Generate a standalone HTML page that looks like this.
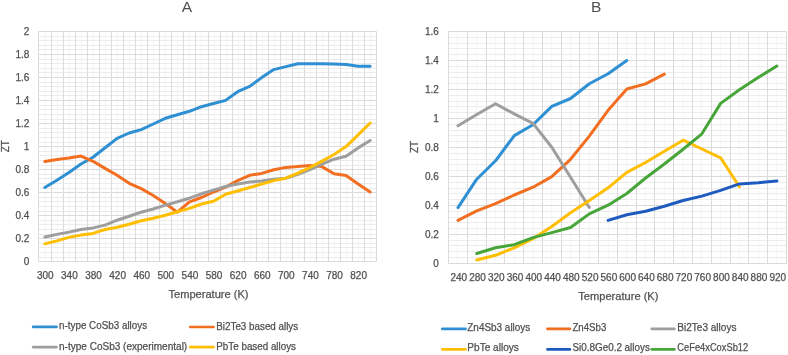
<!DOCTYPE html>
<html><head><meta charset="utf-8"><style>
html,body{margin:0;padding:0;background:#fff;width:788px;height:355px;overflow:hidden}
svg{display:block;filter:blur(0.45px)}
text{font-family:"Liberation Sans", sans-serif;fill:#505050;stroke:#505050;stroke-width:0.25px}
.mn{stroke:#ECECEC;stroke-width:1;fill:none}
.mv{stroke:#F6F6F6;stroke-width:1;fill:none}
.mj{stroke:#DBDBDB;stroke-width:1;fill:none}
.sr{stroke-width:3;stroke-linejoin:round;stroke-linecap:round}
.lg{stroke-width:2.6;fill:none;stroke-linecap:round}
.tk text{font-size:10px}
.ti{font-size:15.5px;stroke:none}
.at{font-size:11.1px}
.zt{font-size:10px}
.lt{font-size:10px}
</style></head><body>
<svg width="788" height="355" viewBox="0 0 788 355">
<path class="mv" d="M45.5 31.5V261.5M57.5 31.5V261.5M69.5 31.5V261.5M81.5 31.5V261.5M93.5 31.5V261.5M105.5 31.5V261.5M117.5 31.5V261.5M129.5 31.5V261.5M141.5 31.5V261.5M153.5 31.5V261.5M165.5 31.5V261.5M177.5 31.5V261.5M189.5 31.5V261.5M201.5 31.5V261.5M214.5 31.5V261.5M226.5 31.5V261.5M238.5 31.5V261.5M250.5 31.5V261.5M262.5 31.5V261.5M274.5 31.5V261.5M286.5 31.5V261.5M298.5 31.5V261.5M310.5 31.5V261.5M322.5 31.5V261.5M334.5 31.5V261.5M346.5 31.5V261.5M358.5 31.5V261.5M370.5 31.5V261.5"/>
<path class="mn" d="M38.5 257.5H376.5M38.5 252.5H376.5M38.5 247.5H376.5M38.5 243.5H376.5M38.5 234.5H376.5M38.5 229.5H376.5M38.5 224.5H376.5M38.5 220.5H376.5M38.5 211.5H376.5M38.5 206.5H376.5M38.5 201.5H376.5M38.5 197.5H376.5M38.5 188.5H376.5M38.5 183.5H376.5M38.5 178.5H376.5M38.5 174.5H376.5M38.5 165.5H376.5M38.5 160.5H376.5M38.5 155.5H376.5M38.5 151.5H376.5M38.5 142.5H376.5M38.5 137.5H376.5M38.5 132.5H376.5M38.5 128.5H376.5M38.5 119.5H376.5M38.5 114.5H376.5M38.5 109.5H376.5M38.5 105.5H376.5M38.5 95.5H376.5M38.5 91.5H376.5M38.5 86.5H376.5M38.5 82.5H376.5M38.5 72.5H376.5M38.5 68.5H376.5M38.5 63.5H376.5M38.5 59.5H376.5M38.5 49.5H376.5M38.5 45.5H376.5M38.5 40.5H376.5M38.5 36.5H376.5"/>
<path class="mj" d="M38.5 261.5H376.5M38.5 238.5H376.5M38.5 215.5H376.5M38.5 192.5H376.5M38.5 169.5H376.5M38.5 146.5H376.5M38.5 123.5H376.5M38.5 100.5H376.5M38.5 77.5H376.5M38.5 54.5H376.5M38.5 31.5H376.5M38.5 31.5V261.5M51.5 31.5V261.5M63.5 31.5V261.5M75.5 31.5V261.5M87.5 31.5V261.5M99.5 31.5V261.5M111.5 31.5V261.5M123.5 31.5V261.5M135.5 31.5V261.5M147.5 31.5V261.5M159.5 31.5V261.5M171.5 31.5V261.5M183.5 31.5V261.5M195.5 31.5V261.5M208.5 31.5V261.5M220.5 31.5V261.5M232.5 31.5V261.5M244.5 31.5V261.5M256.5 31.5V261.5M268.5 31.5V261.5M280.5 31.5V261.5M292.5 31.5V261.5M304.5 31.5V261.5M316.5 31.5V261.5M328.5 31.5V261.5M340.5 31.5V261.5M352.5 31.5V261.5M364.5 31.5V261.5M376.5 31.5V261.5"/>
<path class="mv" d="M457.5 31.5V263.5M476.5 31.5V263.5M495.5 31.5V263.5M514.5 31.5V263.5M533.5 31.5V263.5M551.5 31.5V263.5M570.5 31.5V263.5M589.5 31.5V263.5M608.5 31.5V263.5M626.5 31.5V263.5M645.5 31.5V263.5M664.5 31.5V263.5M683.5 31.5V263.5M701.5 31.5V263.5M720.5 31.5V263.5M739.5 31.5V263.5M758.5 31.5V263.5M776.5 31.5V263.5"/>
<path class="mn" d="M448.5 257.5H786.5M448.5 251.5H786.5M448.5 245.5H786.5M448.5 240.5H786.5M448.5 228.5H786.5M448.5 222.5H786.5M448.5 217.5H786.5M448.5 211.5H786.5M448.5 199.5H786.5M448.5 193.5H786.5M448.5 188.5H786.5M448.5 182.5H786.5M448.5 170.5H786.5M448.5 164.5H786.5M448.5 159.5H786.5M448.5 153.5H786.5M448.5 141.5H786.5M448.5 135.5H786.5M448.5 130.5H786.5M448.5 124.5H786.5M448.5 112.5H786.5M448.5 106.5H786.5M448.5 101.5H786.5M448.5 95.5H786.5M448.5 83.5H786.5M448.5 77.5H786.5M448.5 72.5H786.5M448.5 66.5H786.5M448.5 54.5H786.5M448.5 48.5H786.5M448.5 43.5H786.5M448.5 37.5H786.5"/>
<path class="mj" d="M448.5 263.5H786.5M448.5 234.5H786.5M448.5 205.5H786.5M448.5 176.5H786.5M448.5 147.5H786.5M448.5 118.5H786.5M448.5 89.5H786.5M448.5 60.5H786.5M448.5 31.5H786.5M448.5 31.5V263.5M467.5 31.5V263.5M486.5 31.5V263.5M504.5 31.5V263.5M523.5 31.5V263.5M542.5 31.5V263.5M561.5 31.5V263.5M579.5 31.5V263.5M598.5 31.5V263.5M617.5 31.5V263.5M636.5 31.5V263.5M654.5 31.5V263.5M673.5 31.5V263.5M692.5 31.5V263.5M711.5 31.5V263.5M730.5 31.5V263.5M748.5 31.5V263.5M767.5 31.5V263.5M786.5 31.5V263.5"/>
<polyline points="44.82,187.5 56.88,180.3 68.92,172.4 80.97,164 93.02,157.2 105.07,147.7 117.12,138.4 129.17,133 141.22,129.6 153.27,124 165.32,118.3 177.38,114.7 189.43,111.3 201.47,106.7 213.52,103.5 225.57,100.4 237.62,91.7 249.67,86.4 261.72,77.6 273.77,69.6 285.82,66.6 297.88,63.7 309.93,63.7 321.97,63.7 334.02,64.1 346.07,64.5 358.12,66.3 370.17,66.3" fill="none" stroke="#2E8FD3" class="sr"/>
<polyline points="44.82,161.6 56.88,159.6 68.92,158 80.97,156.1 93.02,161.3 105.07,168.4 117.12,175.3 129.17,183.3 141.22,188.6 153.27,195.5 165.32,203.5 177.38,212.2 189.43,201.8 201.47,197.5 213.52,192 225.57,187.1 237.62,180.6 249.67,175.3 261.72,173.4 273.77,169.7 285.82,167.4 297.88,166.4 309.93,165.5 321.97,166.6 334.02,173.7 346.07,175.4 358.12,183.9 370.17,192" fill="none" stroke="#F26F21" class="sr"/>
<polyline points="44.82,237 56.88,234.4 68.92,232.1 80.97,229.5 93.02,227.9 105.07,225.1 117.12,220.2 129.17,216.3 141.22,212.2 153.27,209 165.32,205.1 177.38,201.8 189.43,198.2 201.47,193.8 213.52,190.1 225.57,186.5 237.62,184 249.67,182 261.72,181.1 273.77,179.2 285.82,178.2 297.88,174.3 309.93,169.6 321.97,164.1 334.02,159.2 346.07,156.3 358.12,147.9 370.17,140.5" fill="none" stroke="#9E9E9E" class="sr"/>
<polyline points="44.82,243.9 56.88,240.9 68.92,237.4 80.97,235.1 93.02,233.4 105.07,229.5 117.12,227.2 129.17,224.3 141.22,220.8 153.27,218.2 165.32,215.3 177.38,211.8 189.43,208.4 201.47,204 213.52,201.3 225.57,194.3 237.62,191 249.67,187.5 261.72,184 273.77,180.6 285.82,178.2 297.88,173.2 309.93,167.5 321.97,161.1 334.02,154.5 346.07,146.6 358.12,134.9 370.17,123" fill="none" stroke="#FFBF00" class="sr"/>
<polyline points="457.98,207.6 476.74,179.2 495.5,160.8 514.26,135.6 533.02,124.8 551.79,106.4 570.55,98.5 589.31,83.8 608.07,73.7 626.83,60.5" fill="none" stroke="#2E8FD3" class="sr"/>
<polyline points="457.98,220.4 476.74,210.9 495.5,203.6 514.26,195 533.02,187.2 551.79,176.6 570.55,159.3 589.31,136.1 608.07,110.3 626.83,89 645.59,83.9 664.35,74.1" fill="none" stroke="#F26F21" class="sr"/>
<polyline points="457.98,125.8 476.74,114.5 495.5,103.7 514.26,113.9 533.02,123.4 551.79,147.2 570.55,177.3 589.31,207.5" fill="none" stroke="#9E9E9E" class="sr"/>
<polyline points="476.74,260 495.5,255.3 514.26,247.8 533.02,238.7 551.79,226.5 570.55,212.8 589.31,200.5 608.07,187.8 626.83,172.4 645.59,162.5 664.35,151.2 683.11,140.2 701.88,149 720.64,157.8 739.4,186.8" fill="none" stroke="#FFBF00" class="sr"/>
<polyline points="608.07,220.4 626.83,214.7 645.59,211.3 664.35,206.2 683.11,200.5 701.88,196.1 720.64,190.4 739.4,183.9 758.16,182.7 776.92,180.9" fill="none" stroke="#1F5BBF" class="sr"/>
<polyline points="476.74,253.5 495.5,247.8 514.26,244.7 533.02,237.6 551.79,232.6 570.55,227.5 589.31,213.9 608.07,205.2 626.83,193.5 645.59,178 664.35,164 683.11,149.2 701.88,133.8 720.64,103.4 739.4,89.7 758.16,77.5 776.92,66" fill="none" stroke="#47A53A" class="sr"/>
<g class="tk">
<text x="29.3" y="264.8" text-anchor="end">0</text>
<text x="29.3" y="241.77" text-anchor="end">0.2</text>
<text x="29.3" y="218.74" text-anchor="end">0.4</text>
<text x="29.3" y="195.71" text-anchor="end">0.6</text>
<text x="29.3" y="172.68" text-anchor="end">0.8</text>
<text x="29.3" y="149.65" text-anchor="end">1</text>
<text x="29.3" y="126.62" text-anchor="end">1.2</text>
<text x="29.3" y="103.59" text-anchor="end">1.4</text>
<text x="29.3" y="80.56" text-anchor="end">1.6</text>
<text x="29.3" y="57.53" text-anchor="end">1.8</text>
<text x="29.3" y="34.5" text-anchor="end">2</text>
<text x="438.8" y="267" text-anchor="end">0</text>
<text x="438.8" y="238" text-anchor="end">0.2</text>
<text x="438.8" y="209" text-anchor="end">0.4</text>
<text x="438.8" y="180" text-anchor="end">0.6</text>
<text x="438.8" y="151" text-anchor="end">0.8</text>
<text x="438.8" y="122" text-anchor="end">1</text>
<text x="438.8" y="93" text-anchor="end">1.2</text>
<text x="438.8" y="64" text-anchor="end">1.4</text>
<text x="438.8" y="35" text-anchor="end">1.6</text>
<text x="45.32" y="278.9" text-anchor="middle">300</text>
<text x="69.42" y="278.9" text-anchor="middle">340</text>
<text x="93.52" y="278.9" text-anchor="middle">380</text>
<text x="117.62" y="278.9" text-anchor="middle">420</text>
<text x="141.72" y="278.9" text-anchor="middle">460</text>
<text x="165.82" y="278.9" text-anchor="middle">500</text>
<text x="189.93" y="278.9" text-anchor="middle">540</text>
<text x="214.02" y="278.9" text-anchor="middle">580</text>
<text x="238.12" y="278.9" text-anchor="middle">620</text>
<text x="262.22" y="278.9" text-anchor="middle">660</text>
<text x="286.32" y="278.9" text-anchor="middle">700</text>
<text x="310.43" y="278.9" text-anchor="middle">740</text>
<text x="334.52" y="278.9" text-anchor="middle">780</text>
<text x="358.62" y="278.9" text-anchor="middle">820</text>
<text x="458.78" y="280.6" text-anchor="middle">240</text>
<text x="477.54" y="280.6" text-anchor="middle">280</text>
<text x="496.3" y="280.6" text-anchor="middle">320</text>
<text x="515.06" y="280.6" text-anchor="middle">360</text>
<text x="533.82" y="280.6" text-anchor="middle">400</text>
<text x="552.59" y="280.6" text-anchor="middle">440</text>
<text x="571.35" y="280.6" text-anchor="middle">480</text>
<text x="590.11" y="280.6" text-anchor="middle">520</text>
<text x="608.87" y="280.6" text-anchor="middle">560</text>
<text x="627.63" y="280.6" text-anchor="middle">600</text>
<text x="646.39" y="280.6" text-anchor="middle">640</text>
<text x="665.15" y="280.6" text-anchor="middle">680</text>
<text x="683.91" y="280.6" text-anchor="middle">720</text>
<text x="702.67" y="280.6" text-anchor="middle">760</text>
<text x="721.44" y="280.6" text-anchor="middle">800</text>
<text x="740.2" y="280.6" text-anchor="middle">840</text>
<text x="758.96" y="280.6" text-anchor="middle">880</text>
<text x="777.72" y="280.6" text-anchor="middle">920</text>
</g>
<text x="186.8" y="11.6" text-anchor="middle" class="ti">A</text>
<text x="596.1" y="11.6" text-anchor="middle" class="ti">B</text>
<text x="208.5" y="298" text-anchor="middle" class="at">Temperature (K)</text>
<text x="618.4" y="300.1" text-anchor="middle" class="at">Temperature (K)</text>
<text transform="translate(9.3,146.2) rotate(-90)" text-anchor="middle" class="zt">ZT</text>
<text transform="translate(418,147) rotate(-90)" text-anchor="middle" class="zt">ZT</text>
<path d="M33.1 326.9H56.5" stroke="#2E8FD3" class="lg"/><text x="59" y="329.4" class="lt" textLength="88.11" lengthAdjust="spacingAndGlyphs">n-type CoSb3 alloys</text>
<path d="M190.2 327H213.6" stroke="#F26F21" class="lg"/><text x="216.3" y="329.5" class="lt" textLength="81.88" lengthAdjust="spacingAndGlyphs">Bi2Te3 based allys</text>
<path d="M33.1 347.1H56.5" stroke="#9E9E9E" class="lg"/><text x="59" y="350" class="lt" textLength="128.2" lengthAdjust="spacingAndGlyphs">n-type CoSb3 (experimental)</text>
<path d="M190.2 347.1H213.6" stroke="#FFBF00" class="lg"/><text x="216.3" y="350" class="lt" textLength="79.73" lengthAdjust="spacingAndGlyphs">PbTe based alloys</text>
<path d="M442.3 328.9H465.5" stroke="#2E8FD3" class="lg"/><text x="467.3" y="331.1" class="lt" textLength="62.97" lengthAdjust="spacingAndGlyphs">Zn4Sb3 alloys</text>
<path d="M547.4 328.9H569.9" stroke="#F26F21" class="lg"/><text x="572.4" y="331.1" class="lt" textLength="33.97" lengthAdjust="spacingAndGlyphs">Zn4Sb3</text>
<path d="M651.8 328.9H674.4" stroke="#9E9E9E" class="lg"/><text x="677.3" y="331.1" class="lt" textLength="59.15" lengthAdjust="spacingAndGlyphs">Bi2Te3 alloys</text>
<path d="M442.3 349.4H465.5" stroke="#FFBF00" class="lg"/><text x="467.3" y="351.2" class="lt" textLength="51.6" lengthAdjust="spacingAndGlyphs">PbTe alloys</text>
<path d="M547.4 349.4H569.9" stroke="#1F5BBF" class="lg"/><text x="572.4" y="351.2" class="lt" textLength="77.53" lengthAdjust="spacingAndGlyphs">Si0.8Ge0.2 alloys</text>
<path d="M651.8 349.4H674.4" stroke="#47A53A" class="lg"/><text x="677.3" y="351.2" class="lt" textLength="70.87" lengthAdjust="spacingAndGlyphs">CeFe4xCoxSb12</text>
</svg>
</body></html>
